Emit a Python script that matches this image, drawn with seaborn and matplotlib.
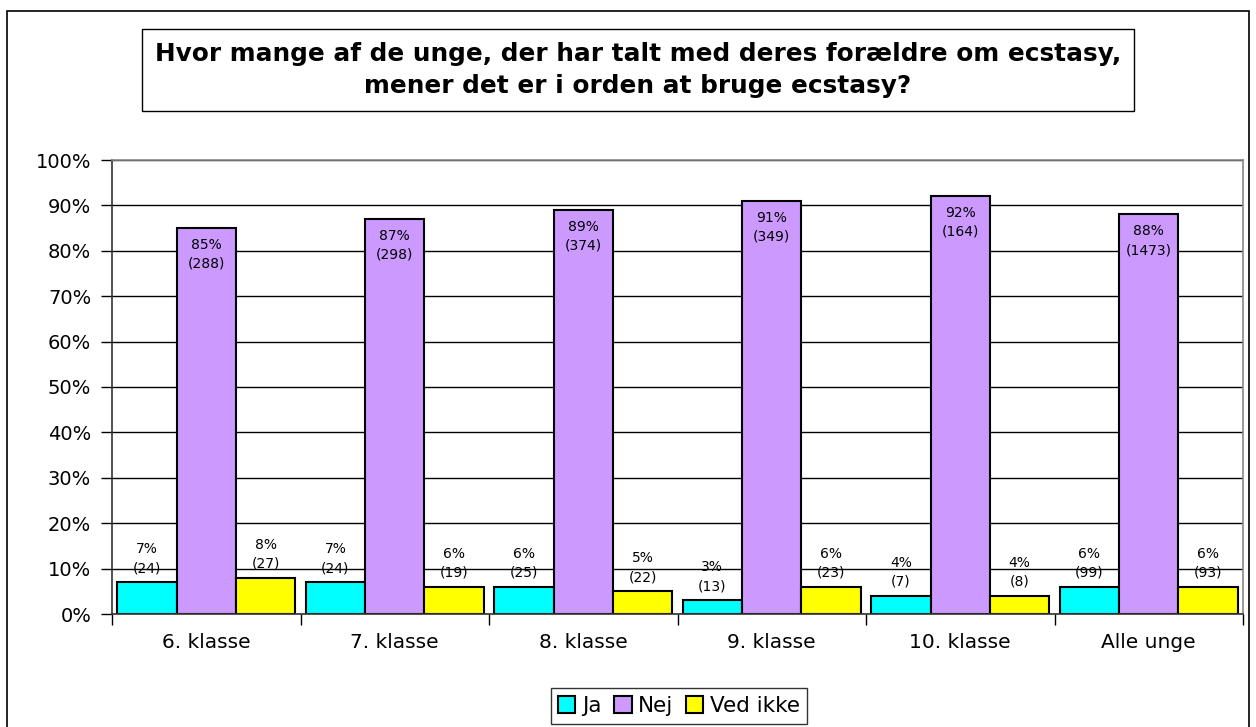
import pandas as pd
import seaborn as sns
import matplotlib.pyplot as plt
from matplotlib.patches import Rectangle
from matplotlib.ticker import MultipleLocator, PercentFormatter

# Data
classes = ["6. klasse", "7. klasse", "8. klasse", "9. klasse", "10. klasse", "Alle unge"]
answers = ["Ja", "Nej", "Ved ikke"]
ja_pct = [7, 7, 6, 3, 4, 6]
nej_pct = [85, 87, 89, 91, 92, 88]
vedikke_pct = [8, 6, 5, 6, 4, 6]
ja_n = [24, 24, 25, 13, 7, 99]
nej_n = [288, 298, 374, 349, 164, 1473]
vedikke_n = [27, 19, 22, 23, 8, 93]

colors = {"Ja": "#00FFFF", "Nej": "#CC99FF", "Ved ikke": "#FFFF00"}

rows = []
for ans, pcts, ns in zip(answers, [ja_pct, nej_pct, vedikke_pct], [ja_n, nej_n, vedikke_n]):
    for c, p, n in zip(classes, pcts, ns):
        rows.append({"klasse": c, "svar": ans, "pct": p, "n": n})
df = pd.DataFrame(rows)

sns.set_style("white")
plt.rcParams['font.family'] = ['DejaVu Sans']
plt.rcParams['text.color'] = 'black'
plt.rcParams['xtick.color'] = 'black'
plt.rcParams['ytick.color'] = 'black'
plt.rcParams['axes.labelcolor'] = 'black'

fig = plt.figure(figsize=(12.56, 7.27), dpi=100)
ax = fig.add_axes([112 / 1256, 1 - 614 / 727, (1243 - 112) / 1256, (614 - 160) / 727])

sns.barplot(data=df, x="klasse", y="pct", hue="svar", hue_order=answers,
            order=classes, palette=colors, width=0.945, gap=0,
            edgecolor="black", linewidth=1.5, saturation=1, ax=ax, legend=True)

ax.set_ylim(0, 100)
ax.set_xlim(-0.5, len(classes) - 0.5)
ax.yaxis.set_major_locator(MultipleLocator(10))
ax.yaxis.set_major_formatter(PercentFormatter(decimals=0))
ax.grid(axis="y", color="black", linewidth=1)
ax.set_axisbelow(True)
ax.set_xlabel("")
ax.set_ylabel("")

for side in ["top", "right"]:
    ax.spines[side].set_color("#888888")
for side in ["left", "bottom"]:
    ax.spines[side].set_color("#333333")
for s in ax.spines.values():
    s.set_linewidth(1.2)

ax.tick_params(axis="y", which="major", length=8, width=1, color="black",
               labelsize=14, pad=7, left=True)
ax.tick_params(axis="x", which="major", length=0, labelsize=14.5, pad=14)
ax.set_xticks([i + 0.5 for i in range(len(classes) - 1)] + [-0.5, len(classes) - 0.5], minor=True)
ax.tick_params(axis="x", which="minor", length=8, width=1, color="black", bottom=True)

# bar labels
for cont, ans in zip(ax.containers, answers):
    sub = df[df["svar"] == ans].set_index("klasse").loc[classes]
    for bar, p, n in zip(cont, sub["pct"], sub["n"]):
        x = bar.get_x() + bar.get_width() / 2
        h = bar.get_height()
        txt = f"{p}%\n({n})"
        if ans == "Nej":
            ax.annotate(txt, (x, h), xytext=(0, -7), textcoords="offset points",
                        ha="center", va="top", fontsize=10, linespacing=1.45)
        else:
            ax.annotate(txt, (x, h), xytext=(0, 5), textcoords="offset points",
                        ha="center", va="bottom", fontsize=10, linespacing=1.45)

# legend
handles, labels = ax.get_legend_handles_labels()
ax.legend(handles, labels, loc="center", bbox_to_anchor=(679 / 1256, 1 - 706 / 727),
          bbox_transform=fig.transFigure, ncol=3, frameon=True, fancybox=False,
          edgecolor="black", fontsize=15.5, handlelength=0.8, handleheight=0.8,
          handletextpad=0.3, columnspacing=0.6, borderpad=0.35)
ax.get_legend().get_frame().set_linewidth(1)

# title in a box
fig.text(638 / 1256, 1 - 70 / 727,
         "Hvor mange af de unge, der har talt med deres forældre om ecstasy,\nmener det er i orden at bruge ecstasy?",
         ha="center", va="center", fontsize=17.8, fontweight="bold", linespacing=1.45,
         bbox=dict(boxstyle="square,pad=0.52", facecolor="white", edgecolor="black", linewidth=1))

# outer chart frame
fig.patches.append(Rectangle((7 / 1256, -0.05), (1249 - 7) / 1256, 1.05 - 11 / 727,
                             transform=fig.transFigure, fill=False, edgecolor="black",
                             linewidth=1.2))

fig.savefig("out.png", dpi=100)
